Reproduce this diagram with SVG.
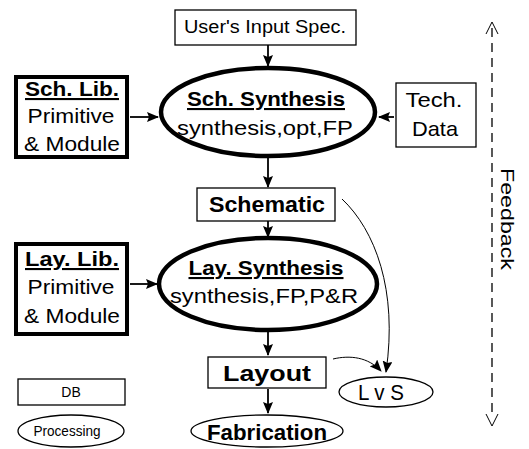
<svg xmlns="http://www.w3.org/2000/svg" width="529" height="449" viewBox="0 0 529 449">
<style>
text{font-family:"Liberation Sans",Arial,sans-serif;fill:#000;text-anchor:middle}
.b{font-weight:bold}
.u{text-decoration:underline}
.box{fill:#fff;stroke:#000;stroke-width:1.3}
.thick{fill:#fff;stroke:#000;stroke-width:4}
.ell{fill:#fff;stroke:#000;stroke-width:1.3}
.ellt{fill:#fff;stroke:#000;stroke-width:4.5}
.c{fill:none;stroke:#000;stroke-width:1.8}
.t{fill:none;stroke:#000;stroke-width:1}
</style>
<defs>
<marker id="ah" viewBox="0 0 12 10" refX="11" refY="5" markerWidth="12" markerHeight="10" markerUnits="userSpaceOnUse" orient="auto"><path d="M0,0 L12,5 L0,10 L2,5 z" fill="#000"/></marker>
</defs>
<g id="connectors">
<line class="c" x1="268" y1="45" x2="268" y2="66" marker-end="url(#ah)"/>
<line class="c" x1="130" y1="117" x2="158" y2="117" marker-end="url(#ah)"/>
<line class="c" x1="394" y1="117" x2="379" y2="117" marker-end="url(#ah)"/>
<line class="c" x1="268" y1="157" x2="268" y2="187" marker-end="url(#ah)"/>
<line class="c" x1="268" y1="221" x2="268" y2="237" marker-end="url(#ah)"/>
<line class="c" x1="130" y1="284" x2="157" y2="284" marker-end="url(#ah)"/>
<line class="c" x1="268" y1="331" x2="268" y2="355" marker-end="url(#ah)"/>
<line class="c" x1="268" y1="389" x2="268" y2="413" marker-end="url(#ah)"/>
<path class="t" d="M342,199 C375,230 398,290 386,372" marker-end="url(#ah)"/>
<path class="t" d="M333,359 C350,355 368,357 381,371" marker-end="url(#ah)"/>
<line x1="492" y1="412" x2="492" y2="26" stroke="#000" stroke-width="1.3" stroke-dasharray="9,6"/>
<path d="M486,34 L492,22 L498,34" class="t" stroke-width="1.5"/>
<path d="M486,414 L492,426 L498,414" class="t" stroke-width="1.5"/>
</g>
<g id="spec"><rect class="box" x="175" y="10" width="181" height="35"/><text x="265" y="33" font-size="18" textLength="162" lengthAdjust="spacingAndGlyphs">User's Input Spec.</text></g>
<g id="schlib"><rect class="thick" x="16" y="77" width="111" height="80"/><text x="72" y="96" font-size="21" class="b u" textLength="94" lengthAdjust="spacingAndGlyphs">Sch. Lib.</text><text x="71" y="123" font-size="21" textLength="87" lengthAdjust="spacingAndGlyphs">Primitive</text><text x="72" y="151" font-size="21" textLength="96" lengthAdjust="spacingAndGlyphs">&amp; Module</text></g>
<g id="schsyn"><ellipse class="ellt" cx="268" cy="112" rx="107" ry="44"/><text x="266" y="106" font-size="21" class="b u" textLength="158" lengthAdjust="spacingAndGlyphs">Sch. Synthesis</text><text x="265" y="135" font-size="21" textLength="176" lengthAdjust="spacingAndGlyphs">synthesis,opt,FP</text></g>
<g id="tech"><rect class="box" x="396" y="83" width="80" height="64"/><text x="434" y="107" font-size="21" textLength="57" lengthAdjust="spacingAndGlyphs">Tech.</text><text x="435" y="136" font-size="21" textLength="46" lengthAdjust="spacingAndGlyphs">Data</text></g>
<g id="schematic"><rect class="box" x="197" y="188" width="138" height="33"/><text x="267" y="212" font-size="22" class="b" textLength="116" lengthAdjust="spacingAndGlyphs">Schematic</text></g>
<g id="laylib"><rect class="thick" x="16" y="244" width="111" height="90"/><text x="72" y="266" font-size="21" class="b u" textLength="94" lengthAdjust="spacingAndGlyphs">Lay. Lib.</text><text x="71" y="294" font-size="21" textLength="87" lengthAdjust="spacingAndGlyphs">Primitive</text><text x="72" y="323" font-size="21" textLength="96" lengthAdjust="spacingAndGlyphs">&amp; Module</text></g>
<g id="laysyn"><ellipse class="ellt" cx="268" cy="284" rx="109" ry="46"/><text x="266" y="275" font-size="21" class="b u" textLength="155" lengthAdjust="spacingAndGlyphs">Lay. Synthesis</text><text x="264" y="303" font-size="21" textLength="188" lengthAdjust="spacingAndGlyphs">synthesis,FP,P&amp;R</text></g>
<g id="layout"><rect class="box" x="208" y="357" width="118" height="31"/><text x="267" y="381" font-size="22" class="b" textLength="88" lengthAdjust="spacingAndGlyphs">Layout</text></g>
<g id="fab"><ellipse class="ell" cx="267" cy="431" rx="76" ry="16"/><text x="267" y="440" font-size="22" class="b" textLength="120" lengthAdjust="spacingAndGlyphs">Fabrication</text></g>
<g id="lvs"><ellipse class="ell" cx="386" cy="392" rx="47" ry="15"/><text x="381" y="400" font-size="22" textLength="46" lengthAdjust="spacingAndGlyphs">L v S</text></g>
<g id="db"><rect class="box" x="18" y="379" width="107" height="26"/><text x="71" y="397" font-size="14">DB</text></g>
<g id="proc"><ellipse class="ell" cx="71" cy="431" rx="53" ry="16"/><text x="67" y="436" font-size="15" textLength="67" lengthAdjust="spacingAndGlyphs">Processing</text></g>
<g id="feedback"><text transform="translate(501,219) rotate(90)" font-size="19" textLength="102" lengthAdjust="spacingAndGlyphs">Feedback</text></g>
</svg>
